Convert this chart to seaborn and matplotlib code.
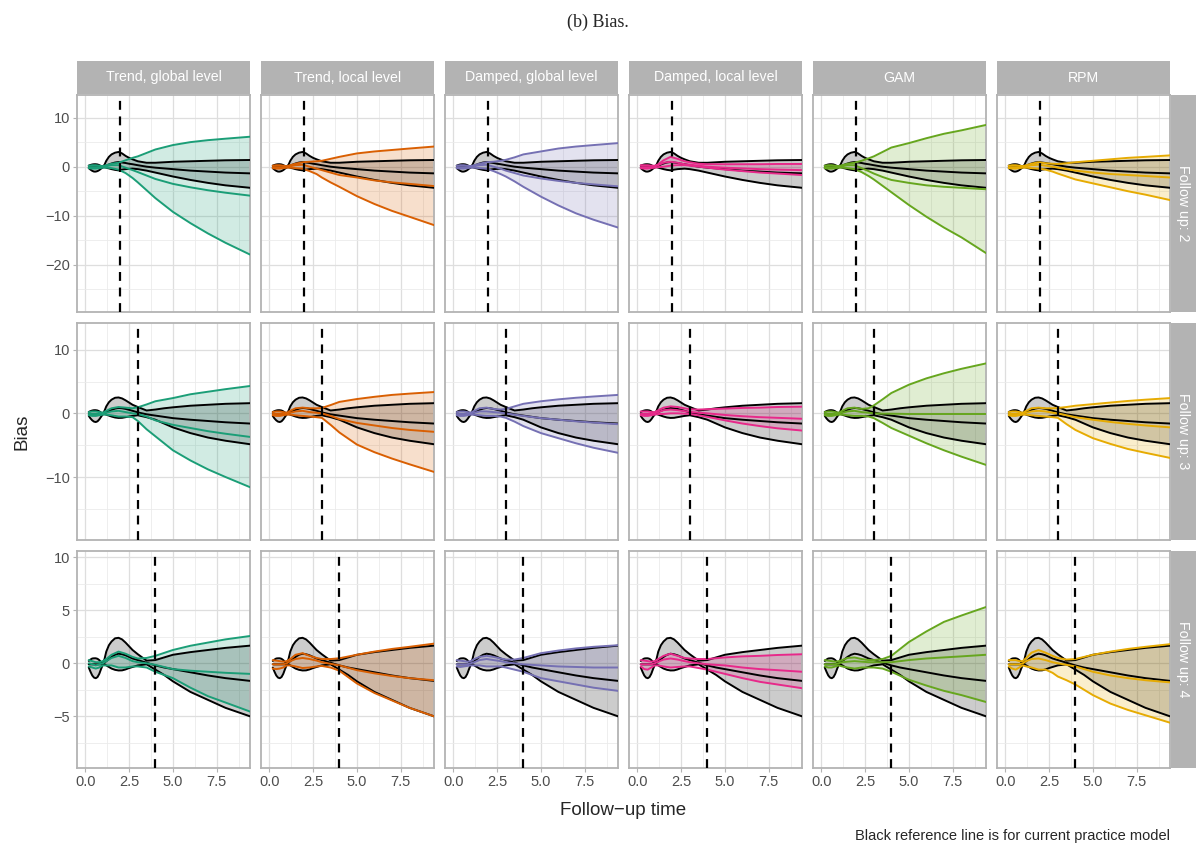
import matplotlib
matplotlib.use("Agg")
import matplotlib.pyplot as plt
import seaborn as sns
import pandas as pd
from matplotlib.ticker import MultipleLocator

# follow-up grids: finer one for the current practice (reference) model
ref_time = [0.2, 0.3, 0.4, 0.5, 0.6, 0.7, 0.8, 0.9, 1.0, 1.1, 1.2, 1.35, 1.5, 1.7, 1.9,
            2.1, 2.3, 2.5, 2.7, 3.0, 3.5, 4.0, 4.5, 5.0, 6.0, 7.0, 8.0, 9.4]
followup_time = [0.2, 0.4, 0.6, 0.8, 1.0, 1.2, 1.5, 1.9, 2.3, 2.7, 3.0, 3.5, 4.0, 5.0, 6.0, 7.0, 8.0, 9.4]

models = ["Trend, global level", "Trend, local level", "Damped, global level",
          "Damped, local level", "GAM", "RPM"]
model_codes = ["tg", "tl", "dg", "dl", "gam", "rpm"]
model_colors = ["#1B9E77", "#D95F02", "#7570B3", "#E7298A", "#66A61E", "#E6AB02"]
follow_ups = [2, 3, 4]

# ---- follow up 2 ----
ref2_lo = [-0.3, -0.6, -0.85, -1.0, -1.0, -0.9, -0.7, -0.4, -0.15, -0.1, -0.2, -0.35, -0.5, -0.65,
           -0.75, -0.6, -0.5, -0.45, -0.4, -0.5, -0.8, -1.2, -1.6, -2.0, -2.7, -3.3, -3.8, -4.3]
ref2_mid = [-0.1, -0.1, -0.1, -0.1, -0.1, -0.1, -0.1, -0.1, -0.05, 0.05, 0.2, 0.45, 0.65, 0.85,
            0.95, 0.85, 0.75, 0.6, 0.5, 0.3, 0.0, -0.2, -0.35, -0.5, -0.8, -1.0, -1.2, -1.36]
ref2_hi = [0.22, 0.35, 0.45, 0.5, 0.5, 0.45, 0.32, 0.12, 0.0, 0.4, 1.2, 2.0, 2.5, 2.85,
           3.0, 2.7, 2.2, 1.8, 1.5, 1.1, 0.8, 0.8, 0.9, 1.0, 1.1, 1.2, 1.3, 1.36]

tg2_lo = [-0.3, -0.4, -0.4, -0.3, -0.2, -0.2, -0.3, -0.6, -1.3, -2.3, -3.2, -4.8, -6.4, -9.2, -11.5, -13.6, -15.5, -17.9]
tg2_mid = [-0.1, -0.1, -0.1, -0.1, 0.0, 0.1, 0.3, 0.3, -0.2, -0.7, -1.1, -1.8, -2.5, -3.5, -4.2, -4.8, -5.3, -5.9]
tg2_hi = [0.2, 0.3, 0.3, 0.2, 0.1, 0.3, 0.6, 0.8, 1.3, 1.8, 2.1, 2.8, 3.5, 4.4, 5.0, 5.4, 5.7, 6.1]

tl2_lo = [-0.3, -0.4, -0.4, -0.3, -0.2, -0.2, -0.3, -0.4, -0.9, -1.5, -2.2, -3.2, -4.1, -6.0, -7.6, -9.0, -10.2, -11.9]
tl2_mid = [-0.1, -0.1, -0.1, -0.1, 0.0, 0.1, 0.3, 0.4, 0.0, -0.4, -0.7, -1.2, -1.7, -2.2, -2.8, -3.2, -3.5, -3.95]
tl2_hi = [0.2, 0.3, 0.3, 0.2, 0.1, 0.3, 0.6, 0.9, 1.0, 1.1, 1.2, 1.6, 2.0, 2.7, 3.1, 3.4, 3.7, 4.1]

dg2_lo = [-0.3, -0.4, -0.4, -0.3, -0.2, -0.2, -0.3, -0.4, -0.9, -1.5, -2.0, -3.0, -4.1, -6.1, -7.9, -9.5, -10.8, -12.4]
dg2_mid = [-0.1, -0.1, -0.1, -0.1, 0.0, 0.1, 0.3, 0.4, 0.0, -0.4, -0.8, -1.3, -1.8, -2.4, -2.9, -3.3, -3.6, -4.0]
dg2_hi = [0.2, 0.3, 0.3, 0.2, 0.1, 0.3, 0.6, 0.9, 1.0, 1.2, 1.4, 1.9, 2.5, 3.1, 3.7, 4.1, 4.4, 4.8]

dl2_lo = [-0.3, -0.4, -0.4, -0.3, -0.2, -0.1, 0.0, 0.2, 0.3, 0.3, 0.2, 0.0, -0.2, -0.6, -0.9, -1.2, -1.4, -1.7]
dl2_mid = [-0.1, -0.1, -0.1, -0.1, 0.0, 0.3, 0.8, 1.0, 0.8, 0.5, 0.4, 0.2, 0.0, -0.2, -0.35, -0.5, -0.6, -0.7]
dl2_hi = [0.3, 0.3, 0.3, 0.2, 0.2, 0.5, 1.3, 2.0, 1.6, 1.1, 0.9, 0.6, 0.5, 0.5, 0.5, 0.5, 0.55, 0.55]

gam2_lo = [-0.3, -0.4, -0.4, -0.3, -0.2, -0.2, -0.3, -0.5, -1.1, -1.9, -2.6, -3.9, -5.2, -7.8, -10.2, -12.4, -14.4, -17.6]
gam2_mid = [-0.1, -0.1, -0.1, -0.1, 0.0, 0.1, 0.3, 0.3, -0.3, -0.9, -1.4, -2.1, -2.7, -3.3, -3.8, -4.1, -4.3, -4.6]
gam2_hi = [0.2, 0.3, 0.3, 0.2, 0.1, 0.3, 0.6, 0.8, 1.2, 1.7, 2.1, 3.0, 3.9, 4.8, 5.8, 6.7, 7.4, 8.5]

rpm2_lo = [-0.3, -0.4, -0.4, -0.3, -0.2, -0.2, -0.3, -0.4, -0.6, -1.0, -1.4, -2.0, -2.6, -3.4, -4.2, -5.0, -5.7, -6.8]
rpm2_mid = [-0.1, -0.1, -0.1, -0.1, 0.0, 0.1, 0.3, 0.4, 0.2, 0.0, -0.2, -0.5, -0.8, -1.2, -1.5, -1.7, -1.9, -2.2]
rpm2_hi = [0.2, 0.3, 0.3, 0.2, 0.1, 0.3, 0.6, 0.9, 0.7, 0.6, 0.55, 0.7, 0.9, 1.2, 1.5, 1.8, 2.0, 2.3]

# ---- follow up 3 ----
ref3_lo = [-0.4, -0.8, -1.1, -1.3, -1.36, -1.25, -0.95, -0.55, -0.15, -0.1, -0.2, -0.35, -0.5, -0.65,
           -0.72, -0.7, -0.6, -0.5, -0.4, -0.3, -0.6, -1.0, -1.6, -2.2, -3.1, -3.8, -4.3, -4.85]
ref3_mid = [-0.1, -0.1, -0.1, -0.1, -0.1, -0.1, -0.1, -0.1, -0.05, 0.05, 0.2, 0.4, 0.55, 0.75,
            0.85, 0.8, 0.7, 0.55, 0.4, 0.15, -0.15, -0.35, -0.55, -0.75, -1.0, -1.2, -1.4, -1.6]
ref3_hi = [0.22, 0.35, 0.45, 0.5, 0.5, 0.45, 0.32, 0.12, 0.0, 0.4, 1.1, 1.75, 2.15, 2.45,
           2.5, 2.35, 2.05, 1.7, 1.35, 1.0, 0.45, 0.6, 0.8, 0.95, 1.2, 1.35, 1.5, 1.6]

tg3_lo = [-0.3, -0.4, -0.4, -0.3, -0.2, -0.2, -0.3, -0.5, -0.5, -0.6, -1.2, -2.5, -3.6, -5.8, -7.4, -8.8, -10.0, -11.6]
tg3_mid = [-0.1, -0.1, -0.1, -0.1, 0.0, 0.1, 0.3, 0.4, 0.2, 0.0, -0.1, -0.5, -1.1, -1.8, -2.3, -2.8, -3.2, -3.7]
tg3_hi = [0.2, 0.3, 0.3, 0.2, 0.1, 0.4, 0.8, 1.0, 0.9, 0.8, 0.95, 1.4, 1.9, 2.4, 3.0, 3.4, 3.8, 4.3]

tl3_lo = [-0.3, -0.4, -0.4, -0.3, -0.2, -0.2, -0.3, -0.4, -0.5, -0.6, -0.7, -1.8, -3.0, -4.9, -6.1, -7.1, -8.0, -9.2]
tl3_mid = [-0.1, -0.1, -0.1, -0.1, 0.0, 0.1, 0.3, 0.4, 0.2, 0.1, 0.0, -0.4, -0.9, -1.5, -1.9, -2.3, -2.6, -2.9]
tl3_hi = [0.2, 0.3, 0.3, 0.2, 0.1, 0.4, 0.8, 0.9, 0.8, 0.8, 0.85, 1.3, 1.8, 2.25, 2.6, 2.9, 3.1, 3.35]

dg3_lo = [-0.3, -0.4, -0.4, -0.3, -0.2, -0.2, -0.3, -0.4, -0.4, -0.5, -0.7, -1.3, -2.0, -3.1, -3.9, -4.7, -5.4, -6.2]
dg3_mid = [-0.1, -0.1, -0.1, -0.1, 0.0, 0.1, 0.3, 0.3, 0.2, 0.1, 0.0, -0.2, -0.4, -0.75, -1.0, -1.25, -1.45, -1.7]
dg3_hi = [0.2, 0.3, 0.3, 0.2, 0.1, 0.4, 0.8, 0.9, 0.7, 0.6, 0.7, 1.1, 1.5, 1.9, 2.2, 2.45, 2.65, 2.9]

dl3_lo = [-0.3, -0.4, -0.4, -0.3, -0.2, -0.1, -0.1, 0.0, 0.0, -0.05, -0.1, -0.3, -0.55, -1.1, -1.6, -2.0, -2.35, -2.7]
dl3_mid = [-0.1, -0.1, -0.1, -0.1, 0.0, 0.2, 0.5, 0.6, 0.5, 0.35, 0.25, 0.1, 0.0, -0.25, -0.45, -0.6, -0.7, -0.85]
dl3_hi = [0.3, 0.3, 0.3, 0.2, 0.2, 0.5, 0.9, 1.1, 1.0, 0.8, 0.65, 0.6, 0.65, 0.75, 0.85, 0.9, 1.0, 1.05]

gam3_lo = [-0.3, -0.4, -0.4, -0.3, -0.2, -0.2, -0.3, -0.4, -0.4, -0.5, -0.75, -1.5, -2.3, -3.5, -4.7, -5.8, -6.8, -8.1]
gam3_mid = [-0.1, -0.1, -0.1, -0.1, 0.0, 0.1, 0.3, 0.4, 0.2, 0.1, 0.0, -0.05, -0.05, -0.1, -0.1, -0.1, -0.1, -0.1]
gam3_hi = [0.2, 0.3, 0.3, 0.2, 0.1, 0.4, 0.8, 0.9, 0.7, 0.8, 1.25, 2.2, 3.2, 4.5, 5.5, 6.3, 7.0, 7.85]

rpm3_lo = [-0.3, -0.4, -0.4, -0.3, -0.2, -0.2, -0.3, -0.4, -0.5, -0.6, -0.7, -1.7, -2.6, -3.9, -4.8, -5.6, -6.2, -7.0]
rpm3_mid = [-0.1, -0.1, -0.1, -0.1, 0.0, 0.1, 0.3, 0.4, 0.3, 0.1, 0.0, -0.3, -0.6, -1.0, -1.35, -1.65, -1.9, -2.2]
rpm3_hi = [0.2, 0.3, 0.3, 0.2, 0.1, 0.4, 0.8, 0.9, 0.8, 0.8, 0.85, 1.0, 1.2, 1.45, 1.7, 1.95, 2.15, 2.4]

# ---- follow up 4 ----
ref4_lo = [-0.4, -0.8, -1.15, -1.35, -1.41, -1.3, -1.0, -0.55, -0.15, -0.1, -0.2, -0.35, -0.5, -0.62,
           -0.68, -0.67, -0.58, -0.45, -0.35, -0.2, -0.1, -0.6, -1.1, -1.7, -2.7, -3.45, -4.2, -5.0]
ref4_mid = [-0.1, -0.1, -0.1, -0.1, -0.1, -0.1, -0.1, -0.1, -0.05, 0.05, 0.2, 0.4, 0.6, 0.8,
            0.9, 0.85, 0.75, 0.6, 0.45, 0.3, 0.05, -0.2, -0.4, -0.55, -0.85, -1.15, -1.4, -1.66]
ref4_hi = [0.22, 0.35, 0.45, 0.47, 0.47, 0.42, 0.3, 0.12, 0.0, 0.4, 1.1, 1.7, 2.05, 2.35,
           2.4, 2.25, 1.95, 1.6, 1.25, 0.85, 0.25, 0.3, 0.55, 0.8, 1.05, 1.25, 1.45, 1.66]

tg4_lo = [-0.3, -0.4, -0.5, -0.4, -0.2, -0.2, -0.2, -0.4, -0.4, -0.3, -0.3, -0.4, -0.8, -1.4, -2.3, -3.1, -3.7, -4.55]
tg4_mid = [0.0, -0.1, -0.2, -0.1, 0.0, 0.2, 0.5, 0.7, 0.5, 0.2, 0.1, 0.0, -0.15, -0.55, -0.7, -0.8, -0.9, -1.0]
tg4_hi = [0.3, 0.2, 0.1, 0.1, 0.2, 0.4, 0.8, 1.1, 0.9, 0.6, 0.45, 0.5, 0.7, 1.25, 1.65, 1.95, 2.25, 2.57]

tl4_lo = [-0.5, -0.55, -0.5, -0.4, -0.2, -0.2, -0.3, -0.45, -0.4, -0.3, -0.25, -0.4, -0.7, -1.9, -2.8, -3.5, -4.2, -5.0]
tl4_mid = [-0.1, -0.1, -0.1, -0.1, 0.0, 0.2, 0.4, 0.5, 0.4, 0.25, 0.1, -0.05, -0.2, -0.65, -0.95, -1.2, -1.4, -1.6]
tl4_hi = [0.3, 0.25, 0.2, 0.15, 0.2, 0.4, 0.8, 0.95, 0.7, 0.5, 0.4, 0.4, 0.47, 0.8, 1.1, 1.35, 1.55, 1.85]

dg4_lo = [-0.3, -0.35, -0.3, -0.25, -0.2, -0.2, -0.2, -0.3, -0.3, -0.3, -0.4, -0.6, -0.8, -1.4, -1.7, -2.0, -2.3, -2.6]
dg4_mid = [-0.1, -0.1, -0.1, -0.1, 0.0, 0.1, 0.3, 0.4, 0.3, 0.2, 0.1, 0.0, -0.1, -0.2, -0.3, -0.35, -0.4, -0.4]
dg4_hi = [0.3, 0.25, 0.2, 0.15, 0.2, 0.4, 0.6, 0.7, 0.6, 0.45, 0.35, 0.35, 0.5, 0.95, 1.2, 1.4, 1.55, 1.7]

dl4_lo = [-0.3, -0.55, -0.6, -0.4, -0.2, -0.2, -0.3, -0.4, -0.35, -0.3, -0.3, -0.45, -0.6, -1.0, -1.4, -1.75, -2.0, -2.35]
dl4_mid = [-0.1, -0.1, -0.1, -0.1, 0.0, 0.15, 0.35, 0.45, 0.35, 0.2, 0.1, 0.0, -0.1, -0.2, -0.4, -0.55, -0.65, -0.8]
dl4_hi = [0.3, 0.25, 0.2, 0.15, 0.2, 0.4, 0.7, 0.9, 0.7, 0.5, 0.45, 0.4, 0.4, 0.55, 0.65, 0.7, 0.78, 0.85]

gam4_lo = [-0.3, -0.4, -0.4, -0.3, -0.2, -0.3, -0.4, -0.5, -0.4, -0.4, -0.4, -0.5, -0.8, -1.55, -2.1, -2.6, -3.0, -3.65]
gam4_mid = [-0.1, -0.1, -0.1, -0.1, 0.0, 0.1, 0.15, 0.2, 0.15, 0.1, 0.1, 0.1, 0.1, 0.3, 0.45, 0.55, 0.65, 0.8]
gam4_hi = [0.3, 0.25, 0.2, 0.15, 0.2, 0.3, 0.5, 0.55, 0.4, 0.3, 0.3, 0.4, 0.7, 2.0, 3.0, 3.9, 4.5, 5.3]

rpm4_lo = [-0.3, -0.5, -0.6, -0.4, -0.2, -0.3, -0.4, -0.6, -0.6, -0.9, -1.25, -1.6, -2.0, -3.0, -3.8, -4.4, -4.9, -5.6]
rpm4_mid = [-0.1, -0.1, -0.1, -0.1, 0.0, 0.2, 0.4, 0.45, 0.3, 0.1, 0.0, -0.15, -0.3, -0.8, -1.15, -1.4, -1.6, -1.8]
rpm4_hi = [0.3, 0.3, 0.3, 0.2, 0.2, 0.5, 1.0, 1.25, 1.0, 0.7, 0.5, 0.35, 0.4, 0.8, 1.1, 1.35, 1.55, 1.8]

# long table built from the arrays above
records = []
for fu in follow_ups:
    for code in ["ref"] + model_codes:
        grid = ref_time if code == "ref" else followup_time
        lo = globals()[f"{code}{fu}_lo"]
        mid = globals()[f"{code}{fu}_mid"]
        hi = globals()[f"{code}{fu}_hi"]
        for x, a, b, c in zip(grid, lo, mid, hi):
            records.append({"fu": fu, "model": code, "x": x, "lo": a, "mid": b, "hi": c})
df = pd.DataFrame(records)

sns.set_theme(style="whitegrid")
plt.rcParams["font.family"] = ["Liberation Sans", "DejaVu Sans"]

W, H = 1196, 846
fig = plt.figure(figsize=(W / 100, H / 100), dpi=100)
fig.patch.set_facecolor("white")

col_left = [77, 261, 445, 629, 813, 997]
panel_w = 173
row_top = [95, 323, 551]
panel_h = 217
y_lims = [(-29.6, 14.6), (-19.9, 14.2), (-9.87, 10.58)]
y_major = [10, 10, 5]
border = "#B3B3B3"


def frac(x0, y0, w, h):
    return [x0 / W, 1 - (y0 + h) / H, w / W, h / H]


for r, fu in enumerate(follow_ups):
    ref = df[(df.fu == fu) & (df.model == "ref")]
    for c, (code, name, color) in enumerate(zip(model_codes, models, model_colors)):
        ax = fig.add_axes(frac(col_left[c], row_top[r], panel_w, panel_h))
        sub = df[(df.fu == fu) & (df.model == code)]

        ax.fill_between(ref.x, ref.lo, ref.hi, color="black", alpha=0.2, lw=0, zorder=2)
        ax.fill_between(sub.x, sub.lo, sub.hi, color=color, alpha=0.2, lw=0, zorder=2)
        for q in ["lo", "mid", "hi"]:
            sns.lineplot(data=ref, x="x", y=q, color="black", linewidth=1.4,
                         errorbar=None, ax=ax, zorder=3)
        for q in ["lo", "mid", "hi"]:
            sns.lineplot(data=sub, x="x", y=q, color=color, linewidth=1.4,
                         errorbar=None, ax=ax, zorder=4)
        ax.axvline(fu, color="black", linestyle=(0, (4, 3)), linewidth=1.6, zorder=5)

        ax.set_xlim(-0.47, 9.4)
        ax.set_ylim(*y_lims[r])
        ax.xaxis.set_major_locator(MultipleLocator(2.5))
        ax.xaxis.set_minor_locator(MultipleLocator(1.25))
        ax.yaxis.set_major_locator(MultipleLocator(y_major[r]))
        ax.yaxis.set_minor_locator(MultipleLocator(y_major[r] / 2))
        ax.set_axisbelow(True)
        ax.grid(which="major", color="#DEDEDE", linewidth=0.9)
        ax.grid(which="minor", color="#EBEBEB", linewidth=0.6)
        for s in ax.spines.values():
            s.set_color(border)
            s.set_linewidth(1.3)
        ax.set_xlabel("")
        ax.set_ylabel("")
        ax.tick_params(which="major", length=3, width=0.8, color=border,
                       labelcolor="#4D4D4D", labelsize=10.5, pad=2)
        ax.tick_params(which="minor", length=0)
        ax.tick_params(left=(c == 0), labelleft=(c == 0),
                       bottom=(r == 2), labelbottom=(r == 2))
        if r == 2:
            ax.set_xticks([0, 2.5, 5, 7.5])
            ax.set_xticklabels(["0.0", "2.5", "5.0", "7.5"])

        # top strips
        if r == 0:
            sax = fig.add_axes(frac(col_left[c], 61, panel_w, 33))
            sax.set_facecolor(border)
            sax.set_xticks([])
            sax.set_yticks([])
            for s in sax.spines.values():
                s.set_visible(False)
            sax.text(0.5, 0.5, name, color="white", fontsize=10.2,
                     ha="center", va="center", transform=sax.transAxes)

    # right strip
    rax = fig.add_axes(frac(1171, row_top[r], 25, panel_h))
    rax.set_facecolor(border)
    rax.set_xticks([])
    rax.set_yticks([])
    for s in rax.spines.values():
        s.set_visible(False)
    rax.text(0.5, 0.5, f"Follow up: {fu}", color="white", fontsize=10.2, rotation=-90,
             ha="center", va="center", transform=rax.transAxes)

fig.text(598 / W, 1 - 22 / H, "(b) Bias.", ha="center", va="center", fontsize=13,
         family=["Liberation Serif", "DejaVu Serif"])
fig.text(22 / W, 1 - 432 / H, "Bias", rotation=90, ha="center", va="center", fontsize=13.5)
fig.text(623 / W, 1 - 810 / H, "Follow\u2212up time", ha="center", va="center", fontsize=13.5)
fig.text(1170 / W, 1 - 836 / H, "Black reference line is for current practice model",
         ha="right", va="center", fontsize=10.5)

fig.savefig("out.png", dpi=100, facecolor="white")
